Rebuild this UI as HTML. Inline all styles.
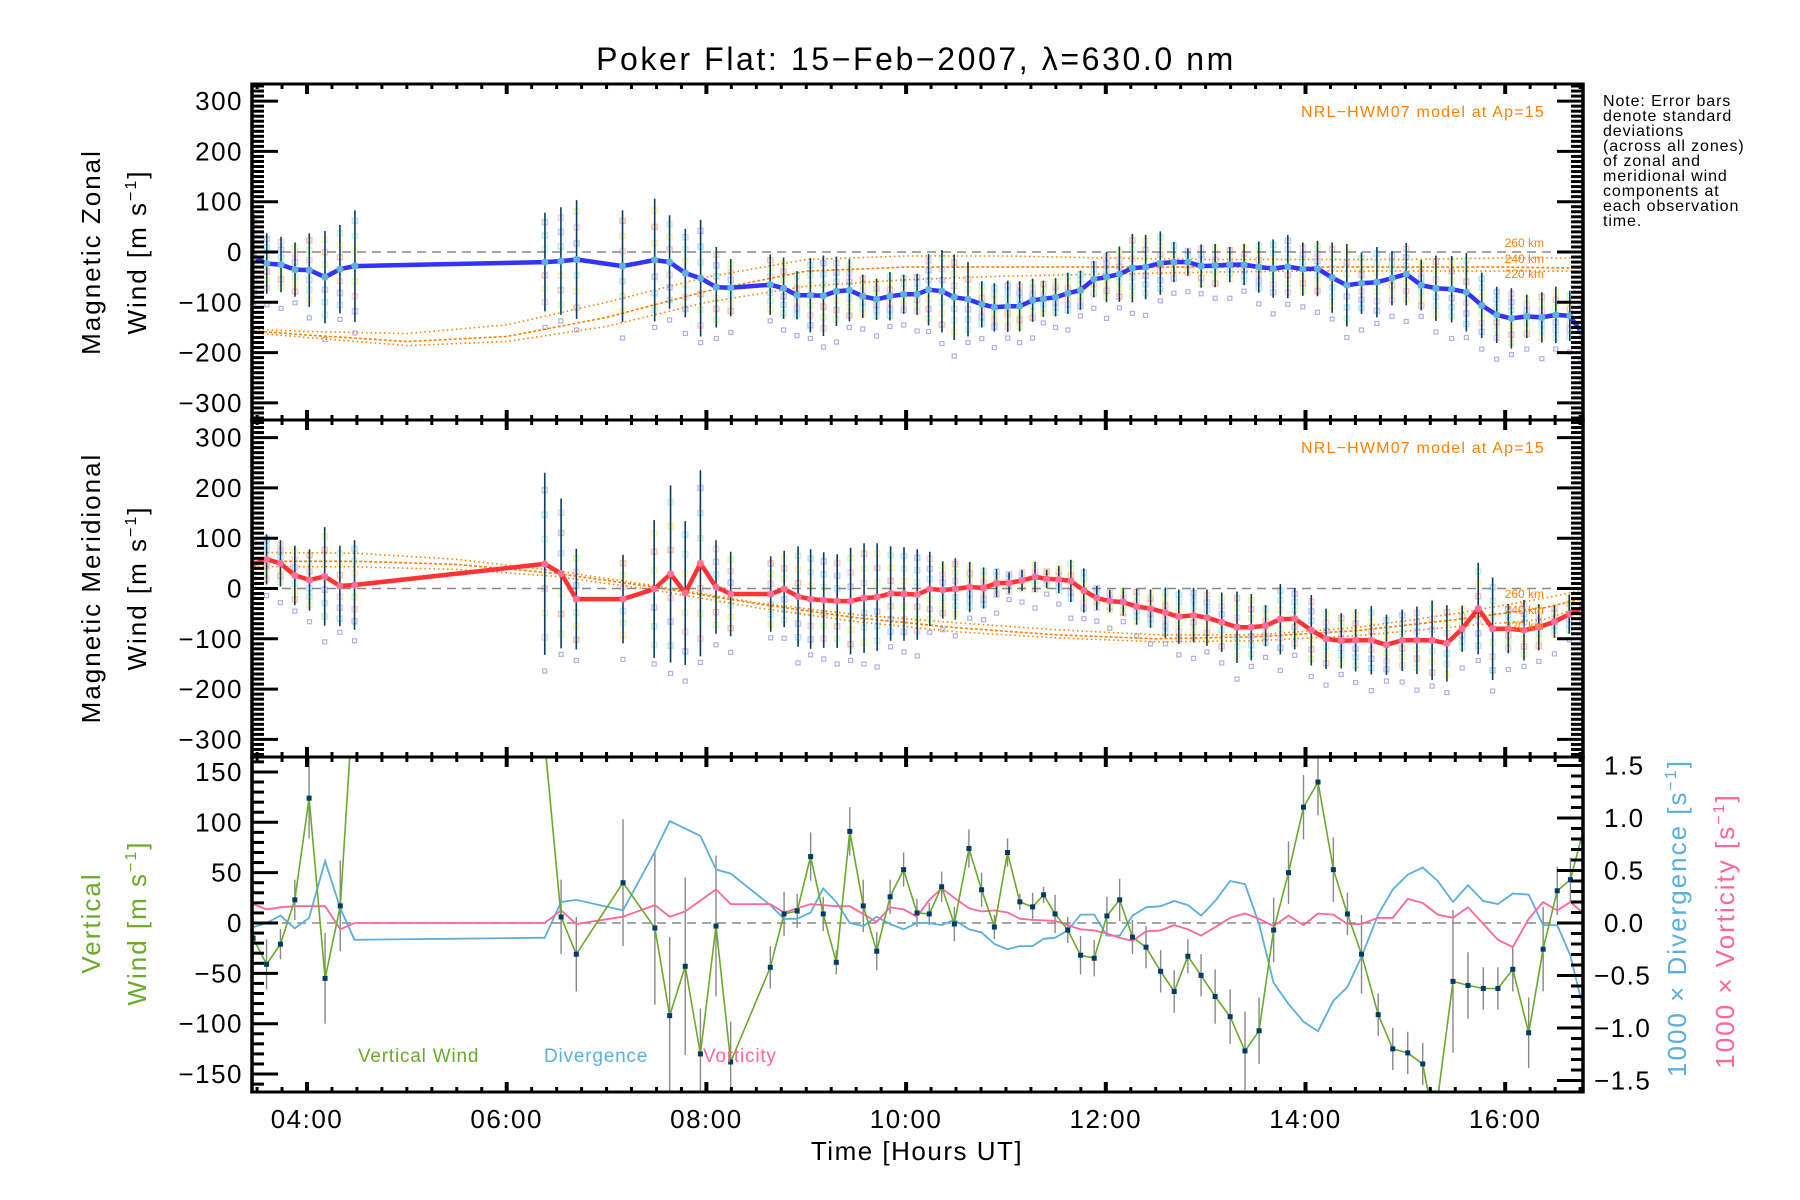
<!DOCTYPE html>
<html><head><meta charset="utf-8"><style>
html,body{margin:0;padding:0;background:#fff;}
svg{display:block;font-family:"Liberation Sans",sans-serif;}
</style></head><body>
<svg id="chart" width="1800" height="1200" viewBox="0 0 1800 1200" xmlns="http://www.w3.org/2000/svg">
<defs>
<clipPath id="c1"><rect x="252" y="84" width="1331" height="336"/></clipPath>
<clipPath id="c2"><rect x="252" y="420" width="1331" height="337"/></clipPath>
<clipPath id="c3"><rect x="252" y="757" width="1331" height="335"/></clipPath>
</defs>
<text x="916" y="70" font-size="32" letter-spacing="2.6" text-anchor="middle">Poker Flat: 15−Feb−2007, λ=630.0 nm</text>
<g id="note" font-size="16" letter-spacing="0.9">
<text x="1603" y="106">Note: Error bars</text>
<text x="1603" y="121">denote standard</text>
<text x="1603" y="136">deviations</text>
<text x="1603" y="151">(across all zones)</text>
<text x="1603" y="166">of zonal and</text>
<text x="1603" y="181">meridional wind</text>
<text x="1603" y="196">components at</text>
<text x="1603" y="211">each observation</text>
<text x="1603" y="226">time.</text>
</g>
<g id="layer"></g>
</svg>
<script>
// ---- data ----
const zonTimes=[3.466,3.597,3.740,3.880,4.023,4.180,4.330,4.480,6.383,6.543,6.700,7.160,7.482,7.631,7.789,7.942,8.099,8.244,8.639,8.773,8.907,9.041,9.172,9.302,9.432,9.566,9.704,9.838,9.976,10.110,10.225,10.359,10.482,10.620,10.758,10.884,11.018,11.137,11.267,11.374,11.497,11.620,11.746,11.880,12.007,12.136,12.266,12.399,12.546,12.682,12.822,12.955,13.095,13.242,13.385,13.532,13.676,13.823,13.973,14.120,14.267,14.414,14.561,14.715,14.866,15.009,15.159,15.306,15.464,15.611,15.765,15.915,16.062,16.216,16.367,16.507,16.647,16.766];
const zonValues=[-10,-23,-25,-35,-36,-50,-34,-28,-20,-18,-15,-28,-16,-20,-42,-52,-70,-71,-65,-72,-86,-86,-87,-78,-76,-88,-94,-88,-84,-84,-75,-78,-90,-94,-104,-110,-108,-108,-96,-93,-90,-82,-76,-54,-50,-44,-32,-30,-22,-20,-20,-28,-27,-25,-25,-30,-33,-29,-34,-33,-51,-66,-62,-60,-52,-44,-66,-72,-74,-80,-106,-125,-132,-128,-130,-125,-127,-160];
const zonSigma=[86,60,55,54,73,92,88,111,98,107,118,111,122,93,88,116,80,57,60,61,48,74,80,69,62,43,41,48,39,41,71,82,85,74,46,48,51,50,43,36,38,41,39,36,50,55,68,64,63,40,27,43,43,35,41,51,58,63,53,55,70,82,61,70,54,62,50,65,66,78,65,56,60,43,50,56,50,66];
const merTimes=[3.46,3.595,3.734,3.878,4.025,4.177,4.329,4.476,6.381,6.545,6.697,7.165,7.477,7.641,7.788,7.940,8.096,8.243,8.644,8.779,8.918,9.044,9.175,9.310,9.444,9.579,9.710,9.845,9.979,10.112,10.237,10.367,10.493,10.637,10.776,10.906,11.031,11.161,11.291,11.408,11.529,11.650,11.780,11.910,12.040,12.175,12.309,12.448,12.596,12.731,12.879,13.013,13.161,13.314,13.457,13.600,13.748,13.892,14.058,14.206,14.358,14.502,14.659,14.811,14.968,15.116,15.268,15.416,15.569,15.730,15.874,16.031,16.188,16.336,16.493,16.641,16.771,16.905];
const merValues=[48,58,50,26,17,24,5,7,49,30,-21,-21,-1,29,-9,50,3,-11,-11,-1,-16,-21,-23,-25,-25,-19,-17,-10,-11,-12,-1,-3,-1,3,1,11,11,16,23,19,18,15,-4,-19,-25,-27,-36,-40,-48,-56,-53,-58,-67,-77,-77,-74,-61,-60,-83,-100,-104,-103,-103,-112,-103,-103,-103,-109,-80,-40,-80,-80,-83,-77,-66,-51,-39,-54];
const merSigma=[53,50,46,59,61,98,80,89,181,149,100,88,137,176,143,185,93,84,75,76,100,99,95,93,106,109,107,94,93,90,74,57,61,50,41,28,21,21,30,18,27,42,44,24,22,27,36,38,50,54,54,56,59,71,66,41,70,61,70,60,55,62,68,60,61,67,79,76,46,91,102,49,60,46,32,39,41,40];
const modelTimesZ=[3.42,4,5,6,7,8,9,10,11,12,13,14,15,16,16.8];
const zonModel260=[-153,-158,-162,-145,-100,-50,-15,-8,-8,-12,-15,-15,-15,-12,-12];
const zonModel240=[-156,-165,-178,-168,-130,-78,-38,-30,-30,-30,-30,-30,-30,-30,-32];
const zonModel220=[-160,-170,-186,-178,-148,-100,-68,-55,-48,-44,-40,-38,-38,-38,-38];
const modelTimesM=[3.42,4.5,5.5,6.5,7.5,8.5,9.5,10.5,11.5,12.5,13.5,14.5,15.5,16.4,16.8];
const merModel260=[72,70,58,35,5,-28,-52,-68,-82,-92,-92,-78,-50,-19,-2];
const merModel240=[54,54,48,30,2,-30,-58,-78,-92,-100,-96,-84,-62,-38,-19];
const merModel220=[44,43,38,24,-4,-38,-66,-86,-98,-106,-104,-94,-76,-61,-35];
const vwTimes=[3.46,3.595,3.734,3.878,4.021,4.181,4.333,4.476,6.381,6.545,6.697,7.165,7.484,7.632,7.788,7.940,8.096,8.243,8.640,8.778,8.909,9.044,9.170,9.301,9.436,9.571,9.706,9.840,9.975,10.109,10.232,10.356,10.483,10.629,10.756,10.884,11.016,11.139,11.267,11.377,11.492,11.619,11.747,11.884,12.011,12.139,12.267,12.403,12.549,12.685,12.822,12.954,13.095,13.245,13.394,13.535,13.681,13.830,13.980,14.125,14.279,14.420,14.561,14.728,14.874,15.024,15.174,15.290,15.477,15.627,15.781,15.927,16.076,16.235,16.380,16.521,16.653,16.785];
const vwValues=[-15,-41,-21,23,124,-55,17,240,180,6,-31,40,-5,-92,-43,-130,-3,-138,-44,9,12,66,9,-39,91,17,-28,26,53,10,9,36,-1,74,33,-4,70,21,16,28,9,-7,-32,-35,7,23,-14,-24,-48,-68,-33,-52,-73,-93,-127,-107,-7,50,115,140,53,9,-31,-91,-125,-129,-140,-200,-58,-62,-65,-65,-46,-109,-26,32,43,93];
const vwSigma=[20,25,15,20,40,45,45,0,0,37,37,63,76,78,88,45,70,40,21,22,17,24,17,12,24,26,19,17,17,14,11,15,17,19,17,12,14,8,14,8,19,13,19,18,19,21,17,21,21,21,17,21,27,27,39,33,32,31,32,33,32,21,39,21,21,21,21,20,71,33,21,21,22,35,42,24,22,20];
const divTimes=[3.46,3.595,3.734,3.878,4.021,4.181,4.333,4.476,5.42,6.381,6.545,6.697,7.165,7.484,7.632,7.940,8.096,8.243,8.640,8.778,8.909,9.044,9.170,9.301,9.436,9.571,9.706,9.840,9.976,10.109,10.232,10.356,10.483,10.629,10.756,10.884,11.016,11.139,11.267,11.377,11.492,11.619,11.747,11.884,12.011,12.139,12.267,12.403,12.549,12.685,12.822,12.954,13.095,13.245,13.394,13.535,13.681,13.830,13.980,14.125,14.279,14.420,14.561,14.728,14.874,15.024,15.174,15.324,15.477,15.627,15.781,15.927,16.076,16.235,16.380,16.521,16.653,16.785];
const divValues=[-0.04,0,0.07,-0.05,0.05,0.59,0.14,-0.16,-0.15,-0.14,0.2,0.22,0.12,0.68,0.97,0.83,0.51,0.47,0.17,0.04,0.04,0.10,0.33,0.2,0,-0.03,0.06,-0.01,-0.06,0,0,-0.02,0.03,-0.06,-0.09,-0.2,-0.25,-0.22,-0.22,-0.15,-0.14,-0.07,0.08,0.08,-0.12,-0.12,0.07,0.15,0.16,0.21,0.17,0.07,0.21,0.4,0.37,-0.01,-0.57,-0.77,-0.94,-1.03,-0.74,-0.61,-0.32,0.08,0.32,0.46,0.53,0.4,0.2,0.36,0.21,0.18,0.28,0.27,-0.02,-0.02,-0.31,-0.83];
const vorTimes=[3.46,3.595,3.734,3.878,4.021,4.181,4.333,4.476,6.381,6.545,6.697,7.165,7.484,7.632,7.788,8.096,8.243,8.640,8.778,9.044,9.301,9.436,9.706,9.840,9.976,10.109,10.232,10.356,10.483,10.629,10.756,10.884,11.016,11.139,11.267,11.492,11.619,11.747,11.884,12.011,12.139,12.267,12.403,12.549,12.685,12.822,12.954,13.095,13.245,13.394,13.535,13.681,13.830,13.980,14.125,14.279,14.420,14.561,14.728,14.874,15.024,15.174,15.324,15.477,15.627,15.781,15.927,16.076,16.235,16.380,16.521,16.653,16.785];
const vorValues=[0.18,0.13,0.15,0.16,0.16,0.16,-0.06,0,0,0.12,-0.01,0.06,0.17,0.06,0.11,0.32,0.18,0.18,0.1,0.18,0.16,0.16,0.01,0.15,0.13,0.06,0.22,0.33,0.24,0.14,0.11,0.12,0.1,0.04,0.03,0.02,-0.02,-0.06,-0.07,-0.1,-0.14,-0.17,-0.08,-0.07,-0.02,-0.06,-0.12,-0.04,0.05,0.09,0.04,-0.03,0.07,-0.02,0.09,0.08,-0.01,-0.01,0.05,0.05,0.23,0.19,0.08,0.05,0.15,-0.01,-0.16,-0.23,0.04,0.2,0.12,0.2,0.09];
const xTickLabels=["04:00","06:00","08:00","10:00","12:00","14:00","16:00"];
const xTickHours=[4,6,8,10,12,14,16];
const windTickValues=[300,200,100,0,-100,-200,-300];
const vwTickValues=[150,100,50,0,-50,-100,-150];
const rTickValues=[1.5,1.0,0.5,0.0,-0.5,-1.0,-1.5];

// ---- scales ----
const X0=252,X1=1583;
const xs=h=>307+(h-4)*99.85;
const y1=v=>252-v*0.503;
const y2=v=>588.5-v*0.503;
const y3=v=>923-v*1.007;
const yr=v=>923-v*105;
const NS="http://www.w3.org/2000/svg";
const layer=document.getElementById('layer');
function mk(tag,attrs,parent){const e=document.createElementNS(NS,tag);for(const k in attrs)e.setAttribute(k,attrs[k]);(parent||layer).appendChild(e);return e;}
function fmt(v){return v<0?'−'+Math.abs(v):String(v);}
function fmtR(v){const s=Math.abs(v).toFixed(1);return v<0?'−'+s:s;}
function pts(ts,vs,ys){return ts.map((t,i)=>xs(t).toFixed(1)+','+ys(vs[i]).toFixed(1)).join(' ');}

const pastel=['#f9c4b0','#fff3a8','#c8f5d8','#b8e6f5','#c9c9f5','#fbd2d2','#e6f8b0'];

function windPanel(ys,clip,times,values,sig,lineCol,dotCol,m260,m240,m220,mt,name){
  const g=mk('g',{'clip-path':'url(#'+clip+')'});
  
  
  times.forEach((t,i)=>{
    const s=sig[i]||50;
    for(let k=-3;k<=3;k++){
      const r=mk('rect',{x:xs(t)-2.5,y:ys(values[i]+k*s*0.27)-2.5,width:5,height:5,fill:'none',stroke:pastel[(i+k+7)%7],'stroke-width':1.6},g);
      
      
    }
    const o1=mk('rect',{x:xs(t)-2,y:ys(values[i]-s-12-(i%3)*10)-2,width:4,height:4,fill:'none',stroke:'#b0b0e6','stroke-width':1.2},g);
    
    
  });
  [m260,m240,m220].forEach((m,j)=>{
    const p=mk('polyline',{points:pts(mt,m,ys),fill:'none',stroke:'#ff8000','stroke-width':1.6,'stroke-dasharray':j==1?'3,2':'1.5,3'},g);
    
    
  });
  const z=mk('line',{x1:X0,x2:X1,y1:ys(0),y2:ys(0),stroke:'#888','stroke-width':1.5,'stroke-dasharray':'9,6'},g);
  
  
  times.forEach((t,i)=>{
    const s=sig[i]||50;
    const b=mk('line',{x1:xs(t),x2:xs(t),y1:ys(values[i]+s),y2:ys(values[i]-s),stroke:'#0a3d62','stroke-width':1.6},g);
    
    
  });
  const ln=mk('polyline',{points:pts(times,values,ys),fill:'none',stroke:lineCol,'stroke-width':4.5,'stroke-linejoin':'round'},g);
  
  
  times.forEach((t,i)=>{
    const c=mk('circle',{cx:xs(t),cy:ys(values[i]),r:3.5,fill:dotCol},g);
    
    
  });
}
windPanel(y1,'c1',zonTimes,zonValues,zonSigma,'#3333ff','#5fb3d9',zonModel260,zonModel240,zonModel220,modelTimesZ,'zonal');
windPanel(y2,'c2',merTimes,merValues,merSigma,'#ff3333','#ff6f9a',merModel260,merModel240,merModel220,modelTimesM,'meridional');

const g3=mk('g',{'clip-path':'url(#c3)'});


const z3=mk('line',{x1:X0,x2:X1,y1:y3(0),y2:y3(0),stroke:'#888','stroke-width':1.5,'stroke-dasharray':'9,6'},g3);


vwTimes.forEach((t,i)=>{
  if(!vwSigma[i])return;
  const b=mk('line',{x1:xs(t),x2:xs(t),y1:y3(vwValues[i]+vwSigma[i]),y2:y3(vwValues[i]-vwSigma[i]),stroke:'#888','stroke-width':1.4},g3);
  
  
});
const dl=mk('polyline',{points:pts(divTimes,divValues,yr),fill:'none',stroke:'#5aafdc','stroke-width':1.8},g3);


const vl=mk('polyline',{points:pts(vorTimes,vorValues,yr),fill:'none',stroke:'#ff6699','stroke-width':1.8},g3);


const wl=mk('polyline',{points:pts(vwTimes,vwValues,y3),fill:'none',stroke:'#6aaa2a','stroke-width':1.6},g3);


vwTimes.forEach((t,i)=>{
  const r=mk('rect',{x:xs(t)-2.5,y:y3(vwValues[i])-2.5,width:5,height:5,fill:'#003a66'},g3);
  
  
});

// ---- axes ----
const ax=mk('g',{stroke:'#000'});


function L(x1,y1_,x2,y2_,w){mk('line',{x1:x1,y1:y1_,x2:x2,y2:y2_,'stroke-width':w},ax);}
[[84,420],[420,757],[757,1092]].forEach(([t,b])=>{
  L(X0,t,X1,t,3);L(X0,b,X1,b,3);L(X0,t-1.5,X0,b+1.5,3.5);L(X1,t-1.5,X1,b+1.5,3.5);
  for(let h=3.5;h<=16.78;h+=0.25){
    const x=xs(h);if(x<X0+2||x>X1-2)continue;
    const maj=Math.abs(h-Math.round(h/2)*2)<0.01;
    const len=maj?10:5, w=maj?4:3;
    L(x,t,x,t+len,w);L(x,b,x,b-len,w);
  }
});
function yTicks(ys,lo,hi,minorStep,majorStep,top,bot,bothSides,rightOnly){
  for(let v=lo;v<=hi+1e-9;v+=minorStep){
    const y=ys(v);if(y<top+2||y>bot-2)continue;
    const maj=Math.abs(v/majorStep-Math.round(v/majorStep))<1e-6;
    const len=maj?26:12;
    if(!rightOnly)L(X0,y,X0+len,y,3);
    if(bothSides||rightOnly)L(X1,y,X1-len,y,3);
  }
}
yTicks(y1,-340,340,10,100,84,420,true,false);
yTicks(y2,-340,340,10,100,420,757,true,false);
yTicks(y3,-170,170,10,50,757,1092,false,false);
yTicks(yr,-1.6,1.6,0.1,0.5,757,1092,false,true);

const lab=mk('g',{'font-size':'26','letter-spacing':'1.5'});


windTickValues.forEach(v=>{
  [y1,y2].forEach((ys,pi)=>{
    const t=mk('text',{x:243,y:ys(v)+9,'text-anchor':'end'},lab);
    t.textContent=fmt(v);
    
    
  });
});
vwTickValues.forEach(v=>{
  const t=mk('text',{x:243,y:y3(v)+9,'text-anchor':'end'},lab);
  t.textContent=fmt(v);
  
  
});
rTickValues.forEach(v=>{
  const t=mk('text',{x:v<0?1594:1604,y:yr(v)+9,'text-anchor':'start'},lab);
  t.textContent=fmtR(v);
  
  
});
xTickHours.forEach((h,i)=>{
  const t=mk('text',{x:xs(h),y:1128,'text-anchor':'middle'},lab);
  t.textContent=xTickLabels[i];
  
  
});
</script>
<svg style="position:absolute;left:0;top:0" width="1800" height="1200" viewBox="0 0 1800 1200">
<text x="917" y="1160" font-size="26" letter-spacing="1.5" text-anchor="middle">Time [Hours UT]</text>
<g font-size="26" letter-spacing="2" text-anchor="middle">
<text transform="translate(100,252) rotate(-90)">Magnetic  Zonal</text>
<text transform="translate(146,252) rotate(-90)">Wind  [m  s<tspan font-size="16" dy="-10">−1</tspan><tspan dy="10">]</tspan></text>
<text transform="translate(100,588) rotate(-90)">Magnetic  Meridional</text>
<text transform="translate(146,588) rotate(-90)">Wind  [m  s<tspan font-size="16" dy="-10">−1</tspan><tspan dy="10">]</tspan></text>
<text fill="#6aaa2a" transform="translate(100,923) rotate(-90)">Vertical</text>
<text fill="#6aaa2a" transform="translate(146,923) rotate(-90)">Wind  [m  s<tspan font-size="16" dy="-10">−1</tspan><tspan dy="10">]</tspan></text>
<text fill="#5aafdc" transform="translate(1686,918) rotate(-90)">1000 × Divergence [s<tspan font-size="16" dy="-10">−1</tspan><tspan dy="10">]</tspan></text>
<text fill="#ff6699" transform="translate(1734,931) rotate(-90)">1000 × Vorticity [s<tspan font-size="16" dy="-10">−1</tspan><tspan dy="10">]</tspan></text>
</g>
<g font-size="16" letter-spacing="1.2" fill="#ff8000" text-anchor="end">
<text x="1545" y="117">NRL−HWM07 model at Ap=15</text>
<text x="1545" y="453">NRL−HWM07 model at Ap=15</text>
</g>
<g font-size="12" fill="#ff8000" text-anchor="end">
<text x="1544" y="247">260 km</text>
<text x="1544" y="263">240 km</text>
<text x="1544" y="278">220 km</text>
<text x="1544" y="598">260 km</text>
<text x="1544" y="614">240 km</text>
<text x="1544" y="630">220 km</text>
</g>
<g font-size="19" letter-spacing="0.8">
<text x="358" y="1062" fill="#6aaa2a">Vertical Wind</text>
<text x="544" y="1062" fill="#5aafdc">Divergence</text>
<text x="703" y="1062" fill="#ff6699">Vorticity</text>
</g>
</svg>
</body></html>
